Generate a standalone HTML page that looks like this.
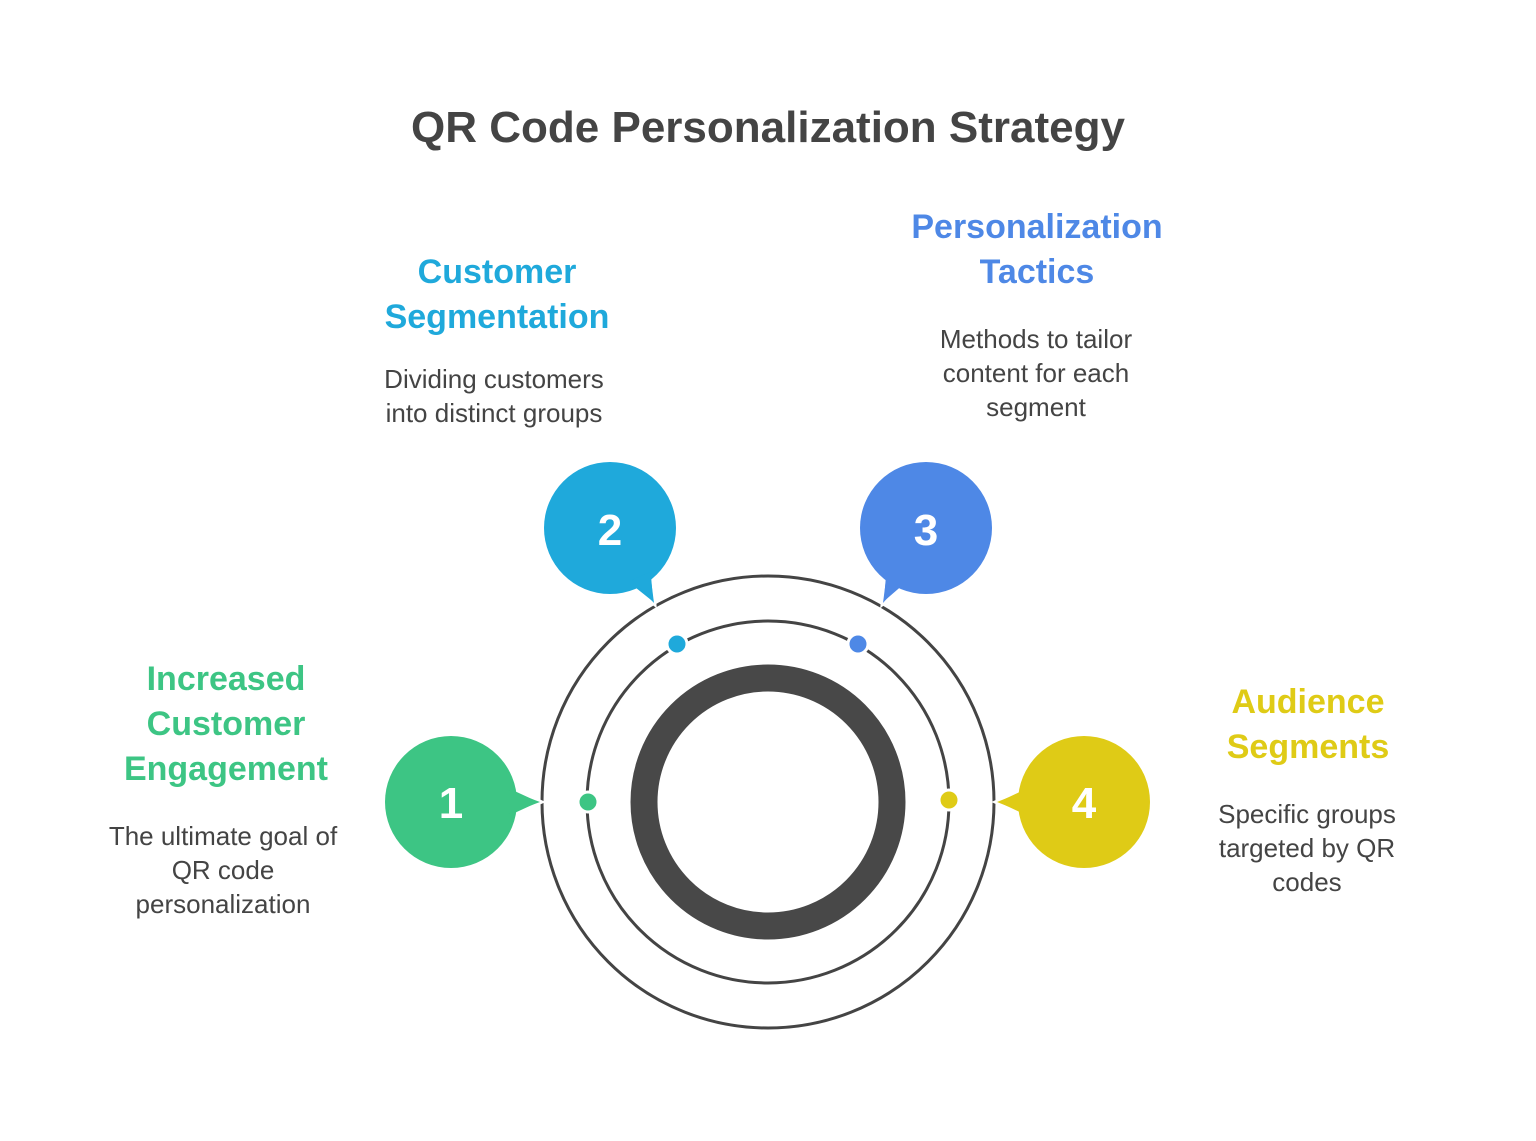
<!DOCTYPE html>
<html><head><meta charset="utf-8"><style>
html,body{margin:0;padding:0;background:#fff;width:1536px;height:1141px;overflow:hidden}
svg{display:block}
text{font-family:"Liberation Sans",sans-serif}
</style></head><body>
<svg width="1536" height="1141" viewBox="0 0 1536 1141">
<text x="768" y="142" text-anchor="middle" font-size="44" font-weight="bold" fill="#444">QR Code Personalization Strategy</text>

<!-- rings -->
<circle cx="768" cy="802" r="226" fill="none" stroke="#444" stroke-width="3"/>
<circle cx="768" cy="802" r="181" fill="none" stroke="#444" stroke-width="3"/>
<circle cx="768" cy="802" r="124" fill="none" stroke="#484848" stroke-width="27"/>

<!-- bubbles -->
<g stroke="#fff" stroke-width="3">
<path d="M505,785 L542,802 L505,819 Z" fill="#3DC584"/>
<path d="M630,585 L655,605 L652,570 Z" fill="#1FA9DB"/>
<path d="M905,585 L882,605 L885,570 Z" fill="#4E88E6"/>
<path d="M1031,785 L995,802 L1031,819 Z" fill="#DFCB16"/>
</g>
<circle cx="451" cy="802" r="66" fill="#3DC584"/>
<circle cx="610" cy="528" r="66" fill="#1FA9DB"/>
<circle cx="926" cy="528" r="66" fill="#4E88E6"/>
<circle cx="1084" cy="802" r="66" fill="#DFCB16"/>
<path d="M508,790 L540,802 L508,814 Z" fill="#3DC584"/>
<path d="M632,580 L654,603 L650,572 Z" fill="#1FA9DB"/>
<path d="M903,580 L883,603 L887,572 Z" fill="#4E88E6"/>
<path d="M1027,790 L997,802 L1027,814 Z" fill="#DFCB16"/>
<g font-size="44" font-weight="bold" fill="#fff" text-anchor="middle">
<text x="451" y="818">1</text><text x="610" y="545">2</text><text x="926" y="545">3</text><text x="1084" y="818">4</text>
</g>

<!-- dots -->
<g stroke="#fff" stroke-width="3">
<circle cx="588" cy="802" r="10" fill="#3DC584"/>
<circle cx="677" cy="644" r="10" fill="#1FA9DB"/>
<circle cx="858" cy="644" r="10" fill="#4E88E6"/>
<circle cx="949" cy="800" r="10" fill="#DFCB16"/>
</g>

<!-- labels -->
<g font-size="34" font-weight="bold" text-anchor="middle">
<text x="226" y="690" fill="#3DC584">Increased</text>
<text x="226" y="735" fill="#3DC584">Customer</text>
<text x="226" y="780" fill="#3DC584">Engagement</text>
<text x="497" y="283" fill="#1FA9DB">Customer</text>
<text x="497" y="328" fill="#1FA9DB">Segmentation</text>
<text x="1037" y="238" fill="#4E88E6">Personalization</text>
<text x="1037" y="283" fill="#4E88E6">Tactics</text>
<text x="1308" y="713" fill="#DFCB16">Audience</text>
<text x="1308" y="758" fill="#DFCB16">Segments</text>
</g>
<g font-size="26" fill="#444" text-anchor="middle">
<text x="223" y="845">The ultimate goal of</text>
<text x="223" y="879">QR code</text>
<text x="223" y="913">personalization</text>
<text x="494" y="388">Dividing customers</text>
<text x="494" y="422">into distinct groups</text>
<text x="1036" y="348">Methods to tailor</text>
<text x="1036" y="382">content for each</text>
<text x="1036" y="416">segment</text>
<text x="1307" y="823">Specific groups</text>
<text x="1307" y="857">targeted by QR</text>
<text x="1307" y="891">codes</text>
</g>
</svg>
</body></html>
